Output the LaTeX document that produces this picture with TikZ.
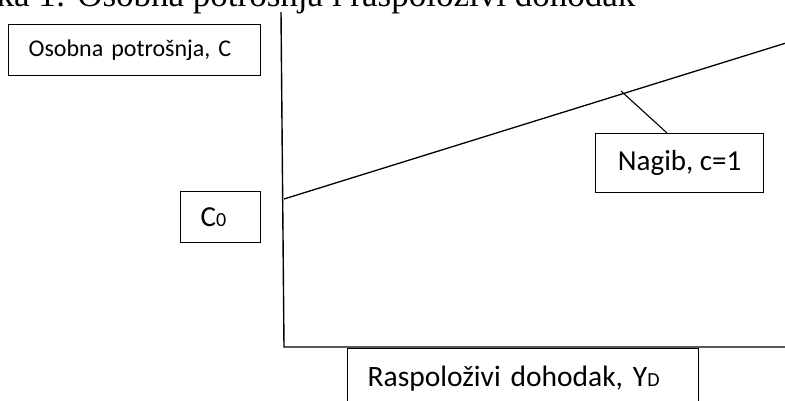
\documentclass[tikz,border=0pt]{standalone}
\usepackage{fontspec}
\setmainfont{Liberation Serif}
\newfontfamily\calfont{Carlito}
\begin{document}
\begin{tikzpicture}[x=1pt,y=-1pt,line width=1.3pt,
  box/.style={draw,line width=1.3pt,inner ysep=0pt,anchor=north west,font=\calfont\fontsize{29}{32}\selectfont},
  axis/.style={line width=1.4pt}]
\useasboundingbox (0,0) rectangle (785,400);
\clip (0,0) rectangle (785,400);
% title (cut at top)
\node[anchor=base west,inner sep=0pt,font=\fontsize{35}{38}\selectfont] (title) at (-4,6)
  {ka 1: Osobna potrošnja i raspoloživi dohodak};
% axes
\coordinate (ytop) at (281,12);
\coordinate (origin) at (284,347);
\coordinate (xend) at (786,347);
\draw[axis] (ytop) -- (origin) -- (xend);
% consumption line
\coordinate (c0pt) at (284,199);
\coordinate (cend) at (786,43);
\draw (c0pt) -- (cend);
% boxes
\node[box,font=\calfont\fontsize{24}{27}\selectfont,minimum height=51pt,inner xsep=20pt,text width=212pt,align=left] (ylab) at (8,24) {Osobna potrošnja, C};
\node[box,minimum height=51pt,inner xsep=20pt,text width=40pt,align=left] (c0) at (180,191)
  {C{\fontsize{20}{22}\selectfont 0}};
\node[box,minimum height=59pt,minimum width=168pt,inner xsep=0pt] (slope) at (595,133) {Nagib, c=1};
\node[box,font=\calfont\fontsize{29.5}{32}\selectfont,minimum height=60pt,inner xsep=20pt,text width=311pt,align=left] (xlab) at (347,348)
  {Raspoloživi dohodak, Y{\fontsize{20}{22}\selectfont D}};
% leader from slope box to line
\coordinate (lead) at (621,91);
\draw[line width=1.1pt] (lead) -- (slope.north west -| 667,0);
\end{tikzpicture}
\end{document}
